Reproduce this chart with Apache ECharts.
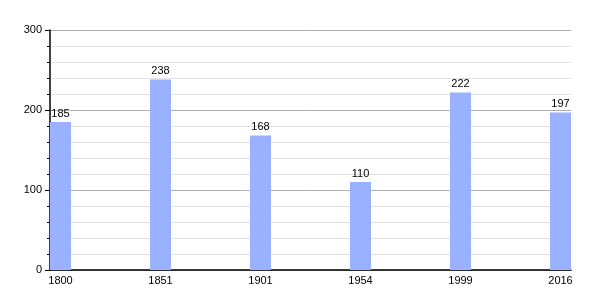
<!DOCTYPE html>
<html>
<head>
<meta charset="utf-8">
<script src="https://cdn.jsdelivr.net/npm/echarts@6/dist/echarts.min.js"></script>
<style>html,body{margin:0;padding:0;background:#fff}#c{width:600px;height:300px}</style>
</head>
<body>
<div id="c"></div>
<script>
const years = ['1800', '1851', '1901', '1954', '1999', '2016'];
const population = [185, 238, 168, 110, 222, 197];
const yTicks = [0, 100, 200, 300];

const positions = years.map((_, i) => i);
const chart = echarts.init(document.getElementById('c'), null, {renderer: 'canvas'});
chart.setOption({
  animation: false,
  backgroundColor: '#fff',
  grid: {left: 50, right: 29, top: 30, bottom: 30},
  xAxis: {
    type: 'value',
    min: -0.105,
    max: 5.105,
    splitLine: {show: false},
    axisLine: {show: true, onZero: false, lineStyle: {color: '#000', width: 1.5}},
    axisTick: {show: false},
    axisLabel: {
      customValues: positions,
      formatter: v => years[Math.round(v)] || '',
      color: '#000', fontSize: 11, fontFamily: 'Liberation Sans, Arial, sans-serif', margin: 5
    }
  },
  yAxis: {
    type: 'value',
    min: yTicks[0],
    max: yTicks[yTicks.length - 1],
    interval: 100,
    axisLine: {show: true, onZero: false, lineStyle: {color: '#000', width: 1.5}},
    axisTick: {show: true, length: 5, lineStyle: {color: '#000'}},
    minorTick: {show: true, splitNumber: 5, length: 3, lineStyle: {color: '#000'}},
    splitLine: {show: true, lineStyle: {color: '#b0b0b0', width: 1}},
    minorSplitLine: {show: true, lineStyle: {color: '#e2e2e2', width: 1}},
    axisLabel: {color: '#000', fontSize: 11, fontFamily: 'Liberation Sans, Arial, sans-serif', margin: 8}
  },
  series: [{
    type: 'bar',
    data: population.map((v, i) => [positions[i], v]),
    barWidth: 21,
    itemStyle: {color: '#99b1fe'},
    label: {show: true, position: 'top', color: '#000', fontSize: 11, fontFamily: 'Liberation Sans, Arial, sans-serif', distance: 3,
      formatter: p => p.value[1]}
  }]
});
</script>
</body>
</html>
